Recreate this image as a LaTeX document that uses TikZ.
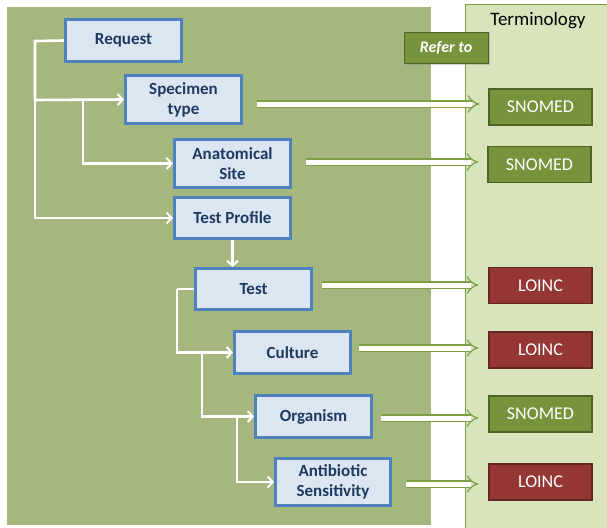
\documentclass[tikz,border=0pt]{standalone}
\usepackage{fontspec}
\setmainfont{Carlito}
\usetikzlibrary{arrows.meta,shadows}
\definecolor{panel}{HTML}{A5B67E}
\definecolor{termfill}{HTML}{D8E4BC}
\definecolor{termline}{HTML}{7F9F45}
\definecolor{boxfill}{HTML}{DCE6F2}
\definecolor{boxline}{HTML}{4F81BD}
\definecolor{boxtext}{HTML}{1F3A60}
\definecolor{snofill}{HTML}{77933C}
\definecolor{snoline}{HTML}{4F6228}
\definecolor{loifill}{HTML}{953735}
\definecolor{loiline}{HTML}{632523}
\tikzset{
  ent/.style={draw=boxline, line width=3pt, fill=boxfill, text=boxtext,
    font=\bfseries\fontsize{17}{20}\selectfont, align=center,
    minimum width=116pt, inner sep=0pt,
    drop shadow={shadow xshift=1.5pt, shadow yshift=-1.5pt, opacity=0.35}},
  term/.style={draw=#1line, line width=1.2pt, fill=#1fill, text=white,
    font=\fontsize{18}{20}\selectfont, minimum width=103pt, minimum height=36pt, inner sep=0pt},
  conn/.style={draw=white, line width=2.6pt, -{Straight Barb[length=5pt,width=11pt,line width=2pt]}},
  plain/.style={draw=white, line width=2.6pt},
  refarrow/.style={draw=termline, line width=1.2pt, double=white, double distance=5pt,
    -{Implies[length=5pt]}}
}
\begin{document}
\begin{tikzpicture}[x=1pt,y=-1pt]
\useasboundingbox (0,0) rectangle (607,527);
\fill[white] (0,0) rectangle (607,527);
% panels
\fill[panel] (7,7) rectangle (431,525);
\draw[termline, fill=termfill, line width=1pt] (465,5) rectangle (610,530);
\node[font=\fontsize{19}{21}\selectfont] (termtitle) at (538,21) {Terminology};
\node[fill=snofill, draw=snoline, line width=0.8pt, text=white, font=\bfseries\itshape\fontsize{16}{18}\selectfont,
  minimum width=84pt, minimum height=31pt, inner sep=0pt,
  drop shadow={shadow xshift=1.5pt, shadow yshift=-1.5pt, opacity=0.35}] (refer) at (446,47.5) {Refer to};
% entity boxes
\node[ent, minimum height=42pt] (req) at (123.5,40.5) {Request};
\node[ent, minimum height=48pt] (spec) at (183.5,99.5) {Specimen\\type};
\node[ent, minimum height=48pt] (anat) at (232.5,163.5) {Anatomical\\Site};
\node[ent, minimum height=41pt] (prof) at (232.5,218) {Test Profile};
\node[ent, minimum height=41pt] (test) at (253.5,289) {Test};
\node[ent, minimum height=42pt] (cult) at (292.5,352.5) {Culture};
\node[ent, minimum height=42pt] (orga) at (313.5,416.5) {Organism};
\node[ent, minimum height=47pt, minimum width=115pt] (anti) at (333,482) {Antibiotic\\Sensitivity};
% terminology boxes
\node[term=sno] (sn1) at (540.5,107) {SNOMED};
\node[term=sno] (sn2) at (539.5,164.5) {SNOMED};
\node[term=loi] (lo1) at (540.5,285.5) {LOINC};
\node[term=loi] (lo2) at (540.5,350) {LOINC};
\node[term=sno] (sn3) at (540.5,414) {SNOMED};
\node[term=loi] (lo3) at (540.5,482) {LOINC};
% tree connectors
\coordinate (c1) at (35,41);
\coordinate (c2) at (35,100);
\coordinate (c3) at (83,100);
\draw[plain] (req.west) -- (c1) -- (c2);
\draw[conn] (c1) |- (prof.west);
\draw[conn] (c2) -- (spec.west);
\draw[conn] (c3) |- (anat.west);
\draw[conn] (prof.south) -- (prof.south |- test.north);
\coordinate (d1) at (177,289);
\coordinate (d2) at (202,352.5);
\coordinate (d3) at (237,416.5);
\draw[plain] (test.west) -- (d1);
\draw[conn] (d1) |- (cult.west);
\draw[conn] (d2) |- (orga.west);
\draw[conn] (d3) |- (anti.west);
% refer-to arrows
\draw[refarrow] ([xshift=14pt]spec.east |- 0,104) -- ([xshift=-9pt]sn1.west |- 0,104);
\draw[refarrow] ([xshift=14pt]anat.east |- 0,162) -- ([xshift=-9pt]sn2.west |- 0,162);
\draw[refarrow] ([xshift=9pt]test.east |- 0,285) -- ([xshift=-10pt]lo1.west |- 0,285);
\draw[refarrow] ([xshift=7pt]cult.east |- 0,348) -- ([xshift=-10pt]lo2.west |- 0,348);
\draw[refarrow] ([xshift=8pt]orga.east |- 0,418) -- ([xshift=-10pt]sn3.west |- 0,418);
\draw[refarrow] ([xshift=14pt]anti.east |- 0,484) -- ([xshift=-10pt]lo3.west |- 0,484);
\end{tikzpicture}
\end{document}
